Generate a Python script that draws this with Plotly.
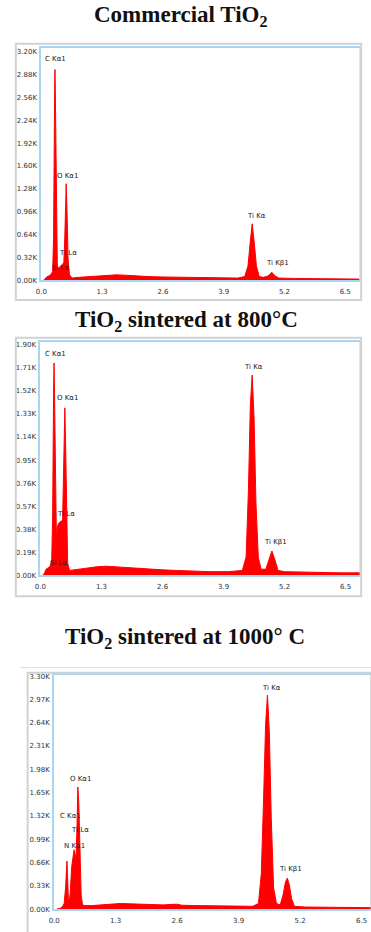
import plotly.graph_objects as go

W, H = 371, 932

# ---------------- data (counts in thousands) ----------------
e1 = [0.05, 0.09, 0.12, 0.16, 0.20, 0.24, 0.26, 0.28, 0.29, 0.30, 0.32, 0.34, 0.37, 0.41, 0.45, 0.48,
      0.50, 0.52, 0.53, 0.55, 0.57, 0.60, 0.65, 0.8, 1.0, 1.2, 1.4, 1.6, 1.8, 2.0, 2.3, 2.6, 3.0, 3.4, 3.8, 4.2,
      4.35, 4.42, 4.47, 4.51, 4.55, 4.60, 4.66, 4.75, 4.85, 4.93, 5.00, 5.08, 5.4, 5.8, 6.2, 6.6, 6.8]
c1 = [0.0, 0.03, 0.05, 0.06, 0.08, 0.12, 0.6, 2.4, 2.95, 2.5, 0.8, 0.2, 0.16, 0.2, 0.22, 0.25,
      0.6, 1.2, 1.35, 0.9, 0.3, 0.08, 0.03, 0.04, 0.05, 0.06, 0.07, 0.075, 0.07, 0.06, 0.05, 0.045, 0.04, 0.035, 0.03, 0.03,
      0.05, 0.2, 0.55, 0.79, 0.55, 0.2, 0.05, 0.04, 0.06, 0.11, 0.06, 0.03, 0.025, 0.02, 0.02, 0.015, 0.015]

e2 = [0.05, 0.09, 0.12, 0.16, 0.20, 0.24, 0.26, 0.28, 0.29, 0.30, 0.32, 0.34, 0.36, 0.39, 0.42, 0.45, 0.47,
      0.49, 0.51, 0.52, 0.54, 0.56, 0.58, 0.62, 0.8, 1.0, 1.2, 1.4, 1.6, 1.8, 2.0, 2.3, 2.6, 2.9, 3.2, 3.6, 4.0,
      4.3, 4.38, 4.43, 4.47, 4.51, 4.55, 4.59, 4.64, 4.70, 4.80, 4.86, 4.93, 5.00, 5.06, 5.2, 5.6, 6.0, 6.4, 6.8]
c2 = [0.0, 0.02, 0.05, 0.06, 0.07, 0.12, 0.5, 1.5, 1.75, 1.5, 0.6, 0.3, 0.4, 0.43, 0.44, 0.45, 0.42,
      0.8, 1.3, 1.38, 1.0, 0.4, 0.1, 0.04, 0.05, 0.06, 0.07, 0.075, 0.07, 0.06, 0.055, 0.05, 0.045, 0.04, 0.035, 0.03, 0.03,
      0.04, 0.15, 0.7, 1.4, 1.65, 1.3, 0.6, 0.15, 0.05, 0.05, 0.12, 0.2, 0.12, 0.04, 0.03, 0.025, 0.02, 0.02, 0.02]

e3 = [0.05, 0.12, 0.17, 0.21, 0.24, 0.26, 0.27, 0.28, 0.30, 0.32, 0.34, 0.37, 0.40, 0.42, 0.44, 0.46, 0.48,
      0.50, 0.52, 0.54, 0.57, 0.60, 0.65, 0.8, 1.0, 1.2, 1.4, 1.6, 1.8, 2.0, 2.3, 2.6, 2.7, 3.0, 3.4, 3.8, 4.2,
      4.32, 4.38, 4.43, 4.47, 4.51, 4.55, 4.59, 4.64, 4.70, 4.78, 4.84, 4.89, 4.93, 4.97, 5.02, 5.08, 5.3, 5.7, 6.1, 6.5, 6.8]
c3 = [0.0, 0.01, 0.03, 0.08, 0.3, 0.6, 0.68, 0.5, 0.15, 0.1, 0.25, 0.6, 0.78, 0.84, 0.78, 0.72, 1.1,
      1.73, 1.5, 0.8, 0.2, 0.06, 0.05, 0.05, 0.06, 0.07, 0.08, 0.075, 0.07, 0.065, 0.06, 0.07, 0.055, 0.05, 0.045, 0.04, 0.04,
      0.08, 0.5, 1.6, 2.6, 3.03, 2.5, 1.3, 0.3, 0.08, 0.06, 0.2, 0.38, 0.44, 0.35, 0.15, 0.04, 0.03, 0.025, 0.02, 0.02, 0.02]

titles = ["Commercial TiO<sub>2</sub>", "TiO<sub>2</sub> sintered at 800°C", "TiO<sub>2</sub> sintered at 1000° C"]

x_ticks = [0.0, 1.3, 2.6, 3.9, 5.2, 6.5]
x_ticklabels = ["0.0", "1.3", "2.6", "3.9", "5.2", "6.5"]

y1_ticks = [0.00, 0.32, 0.64, 0.96, 1.28, 1.60, 1.92, 2.24, 2.56, 2.88, 3.20]
y1_labels = ["0.00K", "0.32K", "0.64K", "0.96K", "1.28K", "1.60K", "1.92K", "2.24K", "2.56K", "2.88K", "3.20K"]
y2_ticks = [0.00, 0.19, 0.38, 0.57, 0.76, 0.95, 1.14, 1.33, 1.52, 1.71, 1.90]
y2_labels = ["0.00K", "0.19K", "0.38K", "0.57K", "0.76K", "0.95K", "1.14K", "1.33K", "1.52K", "1.71K", "1.90K"]
y3_ticks = [0.00, 0.33, 0.66, 0.99, 1.32, 1.65, 1.98, 2.31, 2.64, 2.97, 3.30]
y3_labels = ["0.00K", "0.33K", "0.66K", "0.99K", "1.32K", "1.65K", "1.98K", "2.31K", "2.64K", "2.97K", "3.30K"]

lab1 = [("C Kα1", 0.04, 3.10), ("O Kα1", 0.29, 1.46), ("Ti Lα", 0.34, 0.375), ("Si Lα", 0.19, 0.167),
        ("Ti Kα", 4.36, 0.90), ("Ti Kβ1", 4.76, 0.237)]
lab2 = [("C Kα1", 0.06, 1.826), ("O Kα1", 0.31, 1.458), ("Ti Lα", 0.31, 0.508), ("Si Lα", 0.17, 0.098),
        ("Ti Kα", 4.30, 1.72), ("Ti Kβ1", 4.72, 0.278)]
lab3 = [("O Kα1", 0.29, 1.843), ("Ti Kα", 4.35, 3.138), ("C Kα1", 0.07, 1.323), ("Ti Lα", 0.31, 1.125),
        ("N Kα1", 0.16, 0.90), ("Ti Kβ1", 4.72, 0.563)]

# ---------------- layout helpers ----------------
def px(x):
    return x / W

def py(y):
    return 1 - y / H

panels = [
    # (energies, counts, yticks, ylabels, labels, x-pixels, y-pixels, xrange, yrange)
    (e1, c1, y1_ticks, y1_labels, lab1, (36, 360), (46, 280), 6.82, 3.256),
    (e2, c2, y2_ticks, y2_labels, lab2, (35, 360), (342, 577), 6.81, 1.925),
    (e3, c3, y3_ticks, y3_labels, lab3, (49, 371), (677, 913), 6.70, 3.321),
]
frames = [(10, 42, 361, 300), (10, 338, 361, 598), (22, 675, 375, 940)]
title_pos = [(178, 14), (183, 321), (182, 640)]

fig = go.Figure()
layout = dict(
    width=W, height=H, margin=dict(l=0, r=0, t=0, b=0),
    paper_bgcolor="white", plot_bgcolor="white", showlegend=False,
)
shapes = []
annotations = []
AX = "#a9d7f3"
tickfont = dict(family="DejaVu Sans", size=7, color="#333333")

for i, (e, c, yt, yl, labs, xp, yp, xr, yr) in enumerate(panels):
    n = "" if i == 0 else str(i + 1)
    fig.add_trace(go.Scatter(
        x=e, y=c, mode="lines", fill="tozeroy",
        line=dict(color="#ff0000", width=1), fillcolor="#ff0000",
        xaxis="x" + n, yaxis="y" + n, hoverinfo="skip",
    ))
    layout["xaxis" + n] = dict(
        domain=[px(xp[0]), min(px(xp[1]), 1.0)], range=[0, xr], anchor="y" + n,
        tickvals=x_ticks, ticktext=x_ticklabels, showgrid=False, zeroline=False,
        showline=True, linecolor=AX, linewidth=2, mirror=True, ticks="",
        tickfont=tickfont, ticklabelstandoff=3,
    )
    layout["yaxis" + n] = dict(
        domain=[py(yp[1]), py(yp[0])], range=[0, yr], anchor="x" + n,
        tickvals=yt, ticktext=yl, showgrid=False, zeroline=False,
        showline=True, linecolor=AX, linewidth=2, ticks="",
        tickfont=tickfont, ticklabelstandoff=1,
    )
    # right grey border of plot area
    shapes.append(dict(type="line", xref="paper", yref="paper",
                       x0=px(xp[1]), x1=px(xp[1]), y0=py(yp[1]), y1=py(yp[0]),
                       line=dict(color="#b5b5b5", width=1)))
    fx0, fy0, fx1, fy1 = frames[i]
    shapes.append(dict(type="rect", xref="paper", yref="paper",
                       x0=px(fx0), x1=px(fx1), y0=py(fy1), y1=py(fy0),
                       line=dict(color="#d2d2d2", width=2)))
    for (t, lx, ly) in labs:
        annotations.append(dict(text=t, x=lx, y=ly, xref="x" + n, yref="y" + n,
                                xanchor="left", yanchor="middle", showarrow=False,
                                font=dict(family="DejaVu Sans", size=7, color="#222222")))
    tx, ty = title_pos[i]
    annotations.append(dict(text="<b>" + titles[i] + "</b>", x=px(tx), y=py(ty), xref="paper", yref="paper",
                            xanchor="center", yanchor="middle", showarrow=False,
                            font=dict(family="Liberation Serif", size=23, color="#111111")))

shapes.append(dict(type="line", xref="paper", yref="paper", x0=px(15), x1=1, y0=py(670), y1=py(670),
                   line=dict(color="#dddddd", width=1)))
layout["shapes"] = shapes
layout["annotations"] = annotations
fig.update_layout(**layout)
fig.write_html("out.html")
